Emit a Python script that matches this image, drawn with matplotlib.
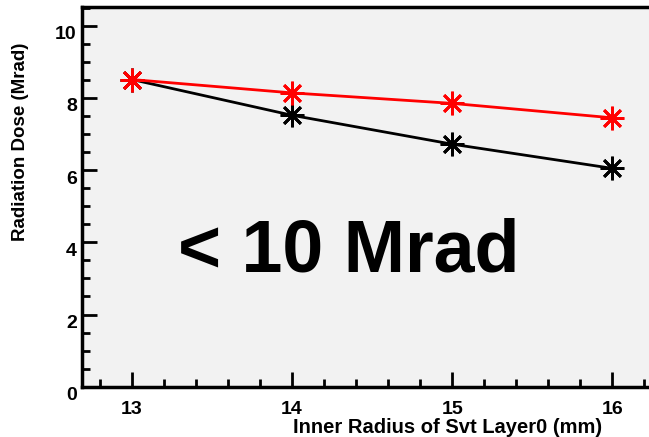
import matplotlib
matplotlib.use("Agg")
import matplotlib.pyplot as plt
from matplotlib.ticker import MultipleLocator
from matplotlib.transforms import ScaledTranslation

plt.rcParams['font.family'] = ['Liberation Sans', 'DejaVu Sans']
plt.rcParams['font.weight'] = 'bold'

radius = [13, 14, 15, 16]
dose_red = [8.51, 8.14, 7.85, 7.45]
dose_black = [8.51, 7.52, 6.72, 6.05]

fig = plt.figure(figsize=(6.49, 4.37), dpi=100)
ax = fig.add_axes([0.127, 0.115, 0.873, 0.869])
ax.set_facecolor('#f2f2f2')

star = (8, 2, 0)
ax.plot(radius, dose_black, color='black', lw=2.0, marker=star,
        markersize=17, markeredgewidth=2.0, zorder=3)
ax.plot(radius, dose_red, color='#ff0000', lw=2.0, marker=star,
        markersize=17, markeredgewidth=2.0, zorder=4)

ax.set_xlim(12.69, 16.23)
ax.set_ylim(0, 10.52)

ax.xaxis.set_major_locator(MultipleLocator(1))
ax.xaxis.set_minor_locator(MultipleLocator(0.2))
ax.yaxis.set_major_locator(MultipleLocator(2))
ax.yaxis.set_minor_locator(MultipleLocator(0.5))

ax.tick_params(which='major', direction='in', length=10.5, width=2,
               labelsize=14)
ax.tick_params(axis='x', which='major', pad=10)
ax.tick_params(axis='y', which='major', pad=4)
ax.tick_params(which='minor', direction='in', length=5.5, width=2)
ax.tick_params(top=False, right=False)
for lbl in ax.get_xticklabels() + ax.get_yticklabels():
    lbl.set_fontweight('bold')

# ROOT-style label placement: y labels sit a little below their ticks
shift = ScaledTranslation(0, -5 / 72, fig.dpi_scale_trans)
for lbl in ax.get_yticklabels():
    lbl.set_transform(lbl.get_transform() + shift)

for side in ('left', 'bottom', 'top'):
    ax.spines[side].set_linewidth(2.5)
ax.spines['right'].set_visible(False)

ax.set_xlabel('Inner Radius of Svt Layer0 (mm)', fontsize=14.5,
              fontweight='bold', loc='right')
ax.xaxis.label.set_va('center')
ax.xaxis.set_label_coords(0.917, -0.108)
ax.set_ylabel('Radiation Dose (Mrad)', fontsize=13.5, fontweight='bold',
              loc='top')
ax.yaxis.set_label_coords(-0.095, 0.905)

ax.text(13.29, 3.74, '< 10 Mrad', fontsize=53, fontweight='bold',
        ha='left', va='center')

fig.savefig('out.png', dpi=100)
